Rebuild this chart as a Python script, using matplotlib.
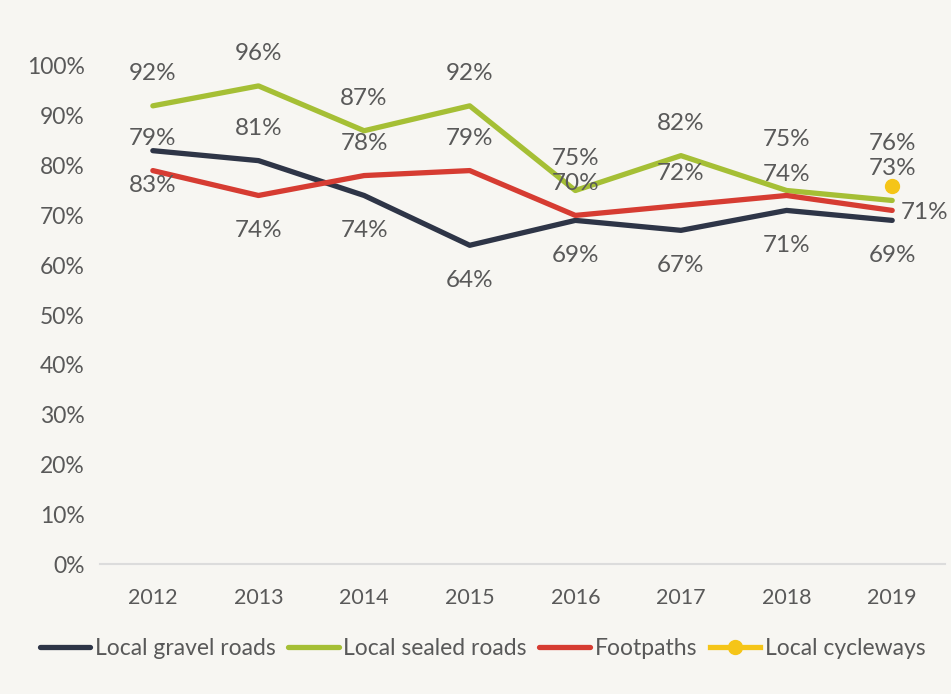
import matplotlib
matplotlib.use("Agg")
import matplotlib.pyplot as plt

years = ["2012", "2013", "2014", "2015", "2016", "2017", "2018", "2019"]
gravel = [83, 81, 74, 64, 69, 67, 71, 69]
sealed = [92, 96, 87, 92, 75, 82, 75, 73]
footpaths = [79, 74, 78, 79, 70, 72, 74, 71]
cycleways = [None, None, None, None, None, None, None, 76]
yticks = [0, 10, 20, 30, 40, 50, 60, 70, 80, 90, 100]

# label offsets in points (vertical); None = right of point
A, B = 23, -25
gravel_off = [B, A, B, B, B, B, B, B]
sealed_off = [A, A, A, A, A, A, 37, A]
foot_off = [A, B, A, A, A, A, 15, None]
cyc_off = [None] * 7 + [30]

plt.rcParams['font.family'] = ['Lato', 'DejaVu Sans']
bg = "#f7f6f2"
txt = "#595959"
c_gravel = "#2e3547"
c_sealed = "#a5bf35"
c_foot = "#d63c32"
c_cyc = "#f5c518"

fig = plt.figure(figsize=(9.51, 6.94), dpi=100)
fig.patch.set_facecolor(bg)
ax = fig.add_axes([0.1052, 0.1873, 0.8885, 0.7176])
ax.set_facecolor(bg)
x = list(range(len(years)))

ax.plot(x, gravel, color=c_gravel, lw=3.8, solid_capstyle='round', label="Local gravel roads", zorder=3)
ax.plot(x, sealed, color=c_sealed, lw=3.8, solid_capstyle='round', label="Local sealed roads", zorder=3)
ax.plot(x, footpaths, color=c_foot, lw=3.8, solid_capstyle='round', label="Footpaths", zorder=3)
cx = [i for i, v in enumerate(cycleways) if v is not None]
cy = [v for v in cycleways if v is not None]
ax.plot(cx, cy, color=c_cyc, lw=3.8, marker='o', ms=10, label="Local cycleways", zorder=4)

def labels(vals, offs):
    for i, (v, o) in enumerate(zip(vals, offs)):
        if v is None:
            continue
        if o is None:
            ax.annotate(f"{v}%", (i, v), xytext=(6, -1.5), textcoords='offset points',
                        ha='left', va='center', fontsize=17.5, color=txt,
                        annotation_clip=False)
        else:
            ax.annotate(f"{v}%", (i, v), xytext=(0, o), textcoords='offset points',
                        ha='center', va='center', fontsize=17.5, color=txt,
                        annotation_clip=False)

labels(gravel, gravel_off)
labels(sealed, sealed_off)
labels(footpaths, foot_off)
labels(cycleways, cyc_off)

ax.set_xlim(-0.5, 7.5)
ax.set_ylim(0, 100)
ax.set_yticks(yticks)
ax.set_yticklabels([f"{t}%" for t in yticks])
ax.set_xticks(x)
ax.set_xticklabels(years)
for s in ax.spines.values():
    s.set_visible(False)
ax.axhline(0, color="#dcdcdc", lw=1.5, zorder=1, clip_on=False)
ax.tick_params(axis='y', length=0, labelsize=16.5, colors=txt, pad=11)
ax.tick_params(axis='x', length=0, labelsize=15.5, colors=txt, pad=17)

leg = fig.legend(loc='center left', bbox_to_anchor=(0.042, 0.066), ncol=4, frameon=False,
                 fontsize=16.5, labelcolor=txt, handlelength=2.2, handletextpad=0.2,
                 columnspacing=0.55, borderaxespad=0, borderpad=0)

fig.savefig("out.png", dpi=100, facecolor=bg)
